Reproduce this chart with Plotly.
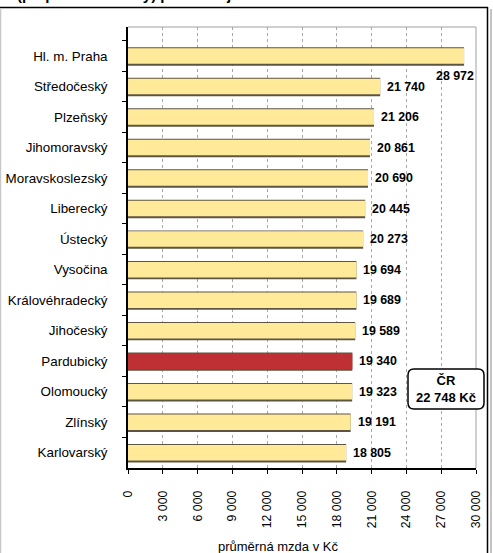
import plotly.graph_objects as go

regions = ["Hl. m. Praha", "Středočeský", "Plzeňský", "Jihomoravský", "Moravskoslezský",
           "Liberecký", "Ústecký", "Vysočina", "Královéhradecký", "Jihočeský",
           "Pardubický", "Olomoucký", "Zlínský", "Karlovarský"]
wages = [28972, 21740, 21206, 20861, 20690, 20445, 20273, 19694, 19689, 19589,
         19340, 19323, 19191, 18805]
highlight = "Pardubický"
cr_label = "ČR<br>22 748 Kč"
x_ticks = list(range(0, 30001, 3000))
x_title = "průměrná mzda v Kč"
title_line = "(přepočtené osoby) podle krajů v 1. čtvrtletí 2009"

W, H = 493, 553
L, R, T, B = 128, 476, 27, 468
FONT = "Liberation Sans, Arial, sans-serif"

def px(x):
    return (x - L) / (R - L)

def py(y):
    return (B - y) / (B - T)

def fmt(v):
    return f"{v:,}".replace(",", " ")

YELLOW = "#FFEA9A"
RED = "#BE3034"
SHADOW = "#5E5442"

band = (B - T) / len(regions)
bar_w = 16 / band
shadow_w = 19 / band
shadow_off = -bar_w / 2 - 1 / band

colors = [RED if r == highlight else YELLOW for r in regions]

fig = go.Figure()
fig.add_trace(go.Bar(x=wages, y=regions, orientation="h", width=shadow_w,
                     offset=shadow_off, marker=dict(color=SHADOW, line=dict(width=0)),
                     hoverinfo="skip", showlegend=False))
fig.add_trace(go.Bar(x=wages, y=regions, orientation="h", width=bar_w,
                     marker=dict(color=colors, line=dict(width=0)),
                     showlegend=False))

annotations = []
for i, (r, v) in enumerate(zip(regions, wages)):
    if i == 0:
        annotations.append(dict(x=x_ticks[-1], y=r, xref="x", yref="y", text=f"<b>{fmt(v)}</b>",
                                showarrow=False, xanchor="right", yanchor="middle", yshift=-20,
                                font=dict(family=FONT, size=12.4, color="black")))
    else:
        annotations.append(dict(x=v, y=r, xref="x", yref="y", text=f"<b>{fmt(v)}</b>",
                                showarrow=False, xanchor="left", yanchor="middle", xshift=5,
                                font=dict(family=FONT, size=12.4, color="black")))

annotations.append(dict(x=px(446), y=py(389), xref="paper", yref="paper",
                        text=f"<b>{cr_label}</b>", showarrow=False, xanchor="center", yanchor="middle",
                        font=dict(family=FONT, size=13, color="black")))
annotations.append(dict(x=px(278), y=py(546), xref="paper", yref="paper", text=x_title,
                        showarrow=False, xanchor="center", yanchor="middle",
                        font=dict(family=FONT, size=13, color="black")))
annotations.append(dict(x=px(15), y=py(5), xref="paper", yref="paper", text=f"<b>{title_line}</b>",
                        showarrow=False, xanchor="left", yanchor="bottom",
                        font=dict(family=FONT, size=15, color="black")))

def rounded_rect(x0, y0, x1, y1, r):
    p = lambda x, y: f"{px(x):.5f},{py(y):.5f}"
    return (f"M {p(x0 + r, y0)} L {p(x1 - r, y0)} Q {p(x1, y0)} {p(x1, y0 + r)} "
            f"L {p(x1, y1 - r)} Q {p(x1, y1)} {p(x1 - r, y1)} L {p(x0 + r, y1)} "
            f"Q {p(x0, y1)} {p(x0, y1 - r)} L {p(x0, y0 + r)} Q {p(x0, y0)} {p(x0 + r, y0)} Z")

shapes = [
    dict(type="line", xref="paper", yref="paper", x0=0, x1=1, y0=1, y1=1,
         line=dict(color="#A0A0A0", width=1)),
    dict(type="line", xref="paper", yref="paper", x0=1, x1=1, y0=0, y1=1,
         line=dict(color="#A0A0A0", width=1)),
    dict(type="line", xref="paper", yref="paper", x0=px(0), x1=px(488), y0=py(7.5), y1=py(7.5),
         line=dict(color="black", width=1.5)),
    dict(type="line", xref="paper", yref="paper", x0=px(487.5), x1=px(487.5), y0=py(7), y1=py(560),
         line=dict(color="black", width=1.5)),
    dict(type="line", xref="paper", yref="paper", x0=px(491), x1=px(491), y0=py(9), y1=py(560),
         line=dict(color="#B0B0B0", width=1.5)),
    dict(type="line", xref="paper", yref="paper", x0=px(0.5), x1=px(0.5), y0=py(8), y1=py(560),
         line=dict(color="#C8C8C8", width=1.5)),
    dict(type="path", xref="paper", yref="paper", path=rounded_rect(408, 369, 484, 409, 6),
         line=dict(color="black", width=1.5), fillcolor="white", layer="above"),
]

fig.update_layout(
    template="none",
    width=W, height=H,
    margin=dict(l=L, r=W - R, t=T, b=H - B, pad=0),
    paper_bgcolor="white", plot_bgcolor="white",
    barmode="overlay",
    separators=", ",
    font=dict(family=FONT, size=12, color="black"),
    annotations=annotations,
    shapes=shapes,
    xaxis=dict(range=[0, 30000], tickvals=x_ticks, ticktext=[fmt(v) for v in x_ticks],
               tickangle=-90, ticks="outside", ticklen=4, tickcolor="black",
               showgrid=True, gridcolor="#A8A8A8", griddash="3px,3px", gridwidth=1,
               showline=True, linecolor="black", linewidth=1.5, zeroline=False,
               automargin=False, ticklabelstandoff=12, tickfont=dict(size=12.3)),
    yaxis=dict(autorange="reversed", tickson="boundaries", ticks="outside", ticklen=4,
               tickcolor="black", showline=True, linecolor="black", linewidth=1.5,
               showgrid=False, zeroline=False, automargin=False,
               ticklabelstandoff=16, tickfont=dict(size=13.4)),
)

fig.write_html("out.html", config={"displayModeBar": False},
               post_script="document.body.style.margin='0';document.body.style.overflow='hidden';")
